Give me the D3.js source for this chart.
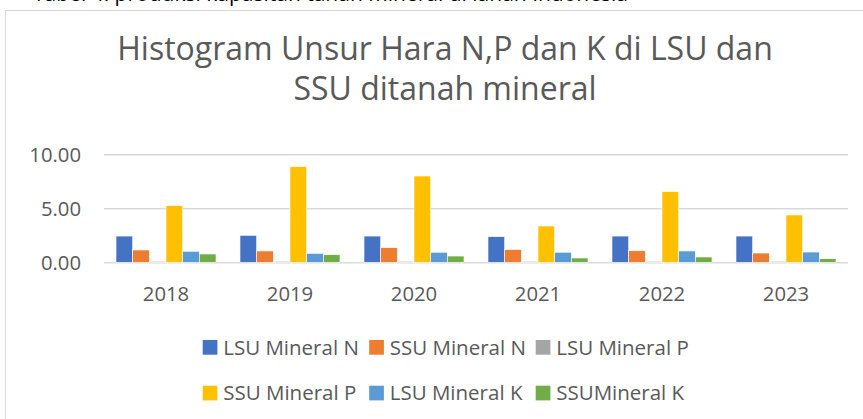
<!DOCTYPE html>
<html>
<head>
<meta charset="utf-8">
<script src="https://cdn.jsdelivr.net/npm/d3@7"></script>
<style>
  body { margin: 0; background: #fff; }
  text { font-family: "Open Sans", sans-serif; }
</style>
</head>
<body>
<div id="chart"></div>
<script>
// data
const years = ["2018", "2019", "2020", "2021", "2022", "2023"];
const seriesNames = ["LSU Mineral N", "SSU Mineral N", "LSU Mineral P",
                     "SSU Mineral P", "LSU Mineral K", "SSUMineral K"];
const lsuN = [2.43, 2.50, 2.43, 2.37, 2.43, 2.43];
const ssuN = [1.14, 1.05, 1.35, 1.17, 1.07, 0.86];
const lsuP = [0.08, 0.08, 0.08, 0.08, 0.08, 0.08];
const ssuP = [5.24, 8.85, 7.99, 3.36, 6.54, 4.38];
const lsuK = [1.02, 0.83, 0.93, 0.93, 1.05, 0.95];
const ssuK = [0.77, 0.70, 0.58, 0.40, 0.49, 0.33];
const yTicks = [0, 5, 10];
const titleLines = ["Histogram Unsur Hara N,P dan K di LSU dan", "SSU ditanah mineral"];

const colors = ["#4472C4", "#ED7D31", "#A5A5A5", "#FFC000", "#5B9BD5", "#70AD47"];
const allSeries = [lsuN, ssuN, lsuP, ssuP, lsuK, ssuK];

const width = 863,
      height = 419;

const svg = d3.select("#chart")
.append("svg")
  .attr("width", width)
  .attr("height", height);

// cropped line of the surrounding document, only its lower edge shows
svg.append("text")
  .attr("x", 33)
  .attr("y", 0.5)
  .attr("font-size", 21)
  .attr("fill", "#000")
  .text("Tabel 4. produksi kapasitan tanah mineral di lahan Indonesia");

// chart frame
svg.append("rect")
  .attr("x", 5.5)
  .attr("y", 10.5)
  .attr("width", 900)
  .attr("height", 430)
  .attr("fill", "#fff")
  .attr("stroke", "#d9d9d9");

const plot = { left: 104, right: 848, top: 154.3, bottom: 262.3 };

const y = d3.scaleLinear()
.domain([0, 10])
.range([plot.bottom, plot.top]);

const x0 = d3.scaleBand()
.domain(years)
.range([plot.left, plot.right])
.paddingInner(0.1935)
.paddingOuter(0.0968);

const x1 = d3.scaleBand()
.domain(d3.range(seriesNames.length))
.range([0, x0.bandwidth()]);

// gridlines
const yAxis = d3.axisLeft(y)
.tickValues(yTicks)
.tickSize(-(plot.right - plot.left))
.tickFormat(d3.format(".2f"));

const gy = svg.append("g")
  .attr("transform", `translate(${plot.left},0)`)
  .call(yAxis);
gy.select(".domain").remove();
gy.selectAll(".tick line")
  .attr("stroke", "#d9d9d9")
  .attr("stroke-width", 1.5);
gy.selectAll(".tick text")
  .attr("x", -23)
  .attr("dy", "0.36em")
  .attr("fill", "#595959")
  .attr("font-size", 20.3);

// bars
const groups = svg.selectAll(".year")
.data(years)
.enter()
.append("g")
  .attr("class", "year")
  .attr("transform", d => `translate(${x0(d)},0)`);

groups.selectAll("rect")
.data((d, i) => allSeries.map((s, k) => ({ k: k, v: s[i] })))
.enter()
.append("rect")
  .attr("x", d => x1(d.k))
  .attr("y", d => y(d.v))
  .attr("width", x1.bandwidth())
  .attr("height", d => y(0) - y(d.v))
  .attr("fill", d => colors[d.k])
  .attr("stroke", "#fff")
  .attr("stroke-width", 0.6);

// x axis labels
const xAxis = d3.axisBottom(x0).tickSize(0);
const gx = svg.append("g")
  .attr("transform", `translate(0,${plot.bottom})`)
  .call(xAxis);
gx.select(".domain").remove();
gx.selectAll(".tick text")
  .attr("y", 39)
  .attr("dy", 0)
  .attr("fill", "#595959")
  .attr("font-size", 20.3);

// title
svg.selectAll(".title")
.data(titleLines)
.enter()
.append("text")
  .attr("class", "title")
  .attr("x", 445)
  .attr("y", (d, i) => 60 + i * 40)
  .attr("text-anchor", "middle")
  .attr("fill", "#595959")
  .attr("font-size", 32)
  .text(d => d);

// legend, two rows of three
const legend = svg.selectAll(".legend-item")
.data(seriesNames)
.enter()
.append("g")
  .attr("class", "legend-item")
  .attr("transform", (d, i) => `translate(${202.7 + (i % 3) * 166.5},${i < 3 ? 340 : 385.7})`);

legend.append("rect")
  .attr("width", 14.7)
  .attr("height", 14.7)
  .attr("fill", (d, i) => colors[i]);

legend.append("text")
  .attr("x", 20.5)
  .attr("y", 14.5)
  .attr("fill", "#595959")
  .attr("font-size", 20.5)
  .text(d => d);
</script>
</body>
</html>
